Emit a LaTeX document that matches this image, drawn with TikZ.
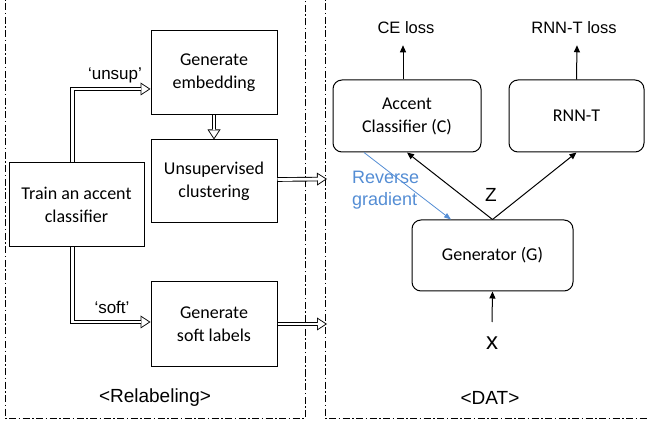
\documentclass[tikz,border=0pt]{standalone}
\usepackage{fontspec}
\setmainfont{Carlito}
\newfontfamily\arialfont{Liberation Sans}
\usetikzlibrary{arrows.meta}
\definecolor{revblue}{RGB}{84,141,212}
\tikzset{
	box/.style={draw,line width=1pt,align=center,inner sep=2pt,
		font=\fontsize{18}{23}\selectfont},
	rbox/.style={box,rounded corners=9pt},
	lbl/.style={font=\arialfont\fontsize{17}{21}\selectfont,inner sep=1pt},
	dbl/.style={line width=4.6pt,-{Triangle[length=10pt,width=13pt,line width=0pt]},
		postaction={draw,white,line width=2.8pt,shorten >=1.65pt,
		-{Triangle[length=7.45pt,width=9.7pt,line width=0pt]}}},
	arr/.style={line width=1pt,-{Triangle[length=7pt,width=6pt]}},
	panel/.style={line width=0.7pt,dash pattern=on 7pt off 2.5pt on 1.5pt off 2.5pt}
}
\begin{document}
\begin{tikzpicture}[x=1pt,y=-1pt]
		\useasboundingbox (0,0) rectangle (649,425);
		\clip (0,0) rectangle (649,425);
	%Panels
		\draw[panel] (5,-10) rectangle (305,418);
		\draw[panel] (325,-10) rectangle (660,418);
		\node[lbl,font=\arialfont\fontsize{19}{23}\selectfont] (relab) at (155,398) {<Relabeling>};
		\node[lbl,font=\arialfont\fontsize{19}{23}\selectfont] (dat) at (490,398) {<DAT>};
	%Relabeling boxes
		\node[box,minimum width=135,minimum height=84] (train) at (76.5,205) {Train an accent\\classifier};
		\node[box,minimum width=126,minimum height=84] (embed) at (214,73) {Generate\\embedding};
		\node[box,minimum width=126,minimum height=83] (clust) at (214,181.5) {Unsupervised\\clustering};
		\node[box,minimum width=126,minimum height=84] (soft) at (214,324) {Generate\\soft labels};
	%Double arrows
		\draw[dbl] ([xshift=-4]train.north) |- ([yshift=-16]embed.west);
		\draw[dbl] ([xshift=-4]train.south) |- ([yshift=2]soft.west);
		\draw[dbl] (embed.south) -- (clust.north);
		\coordinate (in1) at (327,179);
		\coordinate (in2) at (327,324);
		\draw[dbl] ([yshift=2]clust.east) -- (in1);
		\draw[dbl] (soft.east) -- (in2);
		\node[lbl] (unsup) at (115,75) {‘unsup’};
		\node[lbl] (softl) at (112,307) {‘soft’};
	%DAT boxes
		\node[rbox,minimum width=148,minimum height=72] (cls) at (407,116) {Accent\\Classifier (C)};
		\node[rbox,minimum width=135,minimum height=72] (rnnt) at (576.5,116) {RNN-T};
		\node[rbox,minimum width=161,minimum height=71] (gen) at (492.5,255.5) {Generator (G)};
		\node[lbl,font=\arialfont\fontsize{16.5}{20}\selectfont] (ce) at (406,28) {CE loss};
		\node[lbl,font=\arialfont\fontsize{16.5}{20}\selectfont] (rl) at (574,28) {RNN-T loss};
		\node[lbl,font=\arialfont\fontsize{19}{23}\selectfont] (z) at (491,195) {Z};
		\node[lbl,font=\arialfont\fontsize{24}{28}\selectfont] (x) at (492,343) {x};
		\coordinate (xin) at (492,322);
	%Arrows
		\draw[arr] ([xshift=-4]cls.north) -- ([xshift=-3,yshift=-10]ce.south);
		\draw[arr] (rnnt.north) -- ([xshift=3,yshift=-10]rl.south);
		\draw[arr] (gen.north) -- (cls.south);
		\draw[arr] (gen.north) -- (rnnt.south);
		\draw[arr] (xin) -- (gen.south);
	%Reverse gradient
		\draw[revblue,line width=0.8pt,-{Triangle[length=7pt,width=5pt]}] ([xshift=-43]cls.south) -- ([xshift=-41.5]gen.north);
		\node[lbl,text=revblue,align=left,anchor=west,font=\arialfont\fontsize{18}{22}\selectfont] (rev) at (351,190) {Reverse\\gradient};
\end{tikzpicture}
\end{document}
